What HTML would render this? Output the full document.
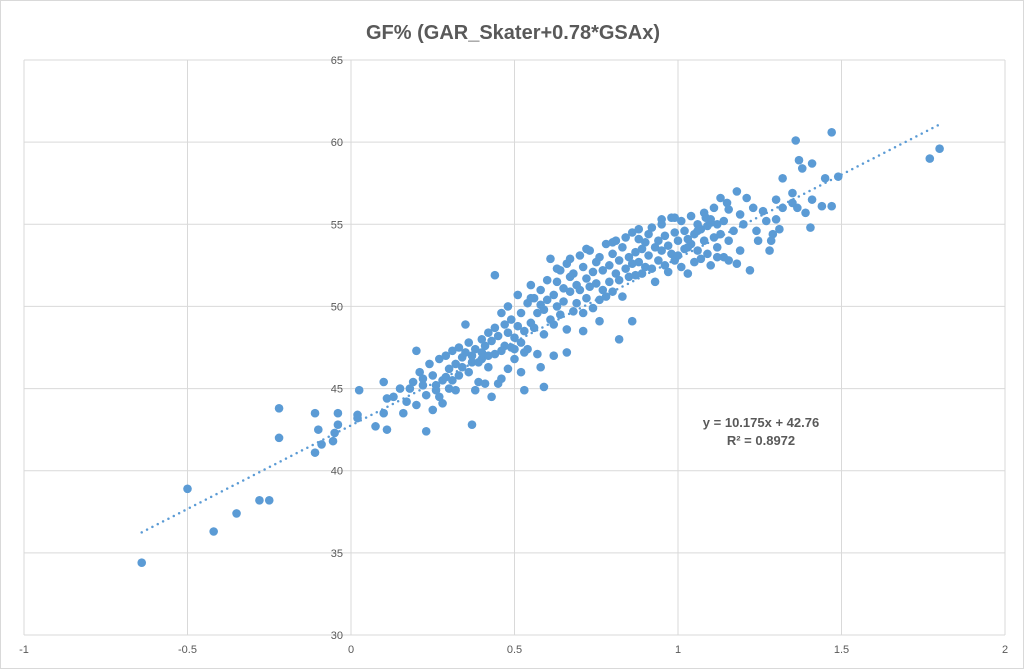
<!DOCTYPE html>
<html><head><meta charset="utf-8"><style>
body{margin:0;background:#fff;font-family:"Liberation Sans",sans-serif;}
#wrap{position:relative;width:1024px;height:669px;overflow:hidden;border:1px solid #d9d9d9;box-sizing:border-box;}
</style></head><body>
<div id="wrap">
<svg id="chart" width="1024" height="669"></svg>
</div>
<script>
const xTicks=[-1,-0.5,0,0.5,1,1.5,2];
const xTickLabels=["-1","-0.5","0","0.5","1","1.5","2"];
const yTicks=[30,35,40,45,50,55,60,65];
const yTickLabels=["30","35","40","45","50","55","60","65"];
const xValues=[
-0.64,-0.50,-0.42,-0.35,-0.28,-0.25,-0.22,-0.22,-0.11,-0.10,
-0.11,-0.09,-0.055,-0.05,-0.04,-0.04,0.02,0.02,0.025,0.075,
0.10,0.11,0.10,0.11,0.13,0.16,0.18,0.20,0.23,0.37,
0.15,0.17,0.19,0.20,0.21,0.22,0.23,0.24,0.25,0.26,
0.27,0.28,0.29,0.30,0.30,0.31,0.32,0.33,0.33,0.34,
0.35,0.36,0.36,0.37,0.38,0.39,0.40,0.40,0.41,0.42,
0.42,0.43,0.44,0.44,0.45,0.45,0.46,0.47,0.47,0.48,
0.48,0.49,0.49,0.50,0.50,0.51,0.51,0.52,0.52,0.53,
0.54,0.54,0.55,0.55,0.56,0.56,0.57,0.57,0.58,0.58,
0.59,0.59,0.60,0.60,0.61,0.61,0.62,0.62,0.63,0.63,
0.64,0.64,0.65,0.65,0.66,0.66,0.67,0.67,0.68,0.68,
0.69,0.69,0.70,0.70,0.71,0.71,0.72,0.72,0.73,0.73,
0.74,0.74,0.75,0.75,0.76,0.76,0.77,0.77,0.78,0.78,
0.79,0.79,0.80,0.80,0.81,0.81,0.82,0.82,0.83,0.83,
0.84,0.84,0.85,0.85,0.86,0.86,0.87,0.87,0.88,0.88,
0.89,0.89,0.90,0.90,0.91,0.91,0.92,0.92,0.93,0.93,
0.94,0.94,0.95,0.95,0.96,0.96,0.97,0.97,0.98,0.98,
0.99,0.99,1.00,1.00,1.01,1.01,1.02,1.02,1.03,1.03,
1.04,1.04,1.05,1.05,1.06,1.06,1.07,1.07,1.08,1.08,
1.09,1.09,1.10,1.10,1.11,1.11,1.12,1.12,1.13,1.14,
0.44,0.53,0.59,0.82,0.86,0.58,0.62,0.66,0.71,0.76,
0.28,0.25,0.22,0.27,0.32,0.38,0.41,0.43,0.46,0.52,
0.35,0.40,0.48,0.55,0.63,0.67,0.72,0.80,0.88,0.95,
0.26,0.29,0.31,0.34,0.37,0.39,0.42,0.46,0.50,0.53,
1.47,1.36,1.80,1.77,1.37,1.38,1.41,1.32,1.45,1.49,
1.18,1.35,1.13,1.21,1.15,1.30,1.41,1.44,1.47,1.35,
1.365,1.39,1.155,1.23,1.26,1.32,1.19,0.99,1.085,1.30,
1.405,1.31,1.29,1.245,1.285,1.28,1.22,1.19,1.18,1.155,
1.155,1.14,1.17,1.20,1.24,1.27,1.10,1.12,1.06,1.03];
const yValues=[
34.4,38.9,36.3,37.4,38.2,38.2,43.8,42.0,43.5,42.5,
41.1,41.6,41.8,42.3,42.8,43.5,43.2,43.4,44.9,42.7,
45.4,42.5,43.5,44.4,44.5,43.5,45.0,47.3,42.4,42.8,
45.0,44.2,45.4,44.0,46.0,45.2,44.6,46.5,45.8,44.9,
46.8,45.5,47.0,46.2,45.0,47.3,46.5,45.8,47.5,46.9,
47.2,46.0,47.8,46.6,47.4,45.4,48.0,46.8,47.6,48.4,
46.3,47.9,48.7,47.1,48.2,45.3,49.6,47.6,48.9,46.2,
48.4,47.5,49.2,48.1,46.8,50.7,48.8,47.8,49.6,48.5,
50.2,47.4,49.0,51.3,48.7,50.5,49.6,47.1,51.0,50.1,
48.3,49.8,51.6,50.4,49.2,52.9,50.7,48.9,51.5,50.0,
52.2,49.5,51.1,50.3,52.6,48.6,51.8,50.9,49.7,52.0,
51.3,50.2,53.1,51.0,49.6,52.4,51.7,50.5,53.4,51.2,
52.1,49.9,52.7,51.4,50.4,53.0,52.2,51.0,53.8,50.6,
52.5,51.5,53.2,50.9,52.0,54.0,51.6,52.8,53.6,50.6,
52.3,54.2,51.8,53.0,52.6,54.5,51.9,53.3,52.7,54.1,
53.5,52.0,53.9,52.4,54.4,53.1,52.3,54.8,53.6,51.5,
54.0,52.8,53.4,55.0,52.5,54.3,53.7,52.1,55.4,53.2,
54.5,52.8,54.0,53.1,55.2,52.4,54.6,53.5,54.1,52.0,
55.5,53.8,54.4,52.7,55.0,53.4,54.7,52.9,55.7,54.0,
53.2,54.9,55.3,52.5,54.2,56.0,53.6,55.0,54.4,53.0,
51.9,44.9,45.1,48.0,49.1,46.3,47.0,47.2,48.5,49.1,
44.1,43.7,45.6,44.5,44.9,44.9,45.3,44.5,45.6,46.0,
48.9,47.2,50.0,50.5,52.3,52.9,53.5,53.9,54.7,55.3,
45.2,45.7,45.5,46.3,47.0,46.6,47.0,47.3,47.4,47.2,
60.6,60.1,59.6,59.0,58.9,58.4,58.7,57.8,57.8,57.9,
57.0,56.9,56.6,56.6,56.3,56.5,56.5,56.1,56.1,56.3,
56.0,55.7,55.9,56.0,55.8,56.0,55.6,55.4,55.4,55.3,
54.8,54.7,54.4,54.0,54.0,53.4,52.2,53.4,52.6,52.8,
54.0,55.2,54.6,55.0,54.6,55.2,55.1,53.0,54.6,53.6];
const slope=10.175, intercept=42.76, trendX=[-0.64,1.80];
const NS="http://www.w3.org/2000/svg";
const svg=document.getElementById('chart');
const L=23,R=1004,T=59,B=634;
const xS=v=>L+(v+1)/3*(R-L);
const yS=v=>B-(v-30)/35*(B-T);
function mk(tag,attrs,parent){const e=document.createElementNS(NS,tag);for(const k in attrs)e.setAttribute(k,attrs[k]);(parent||svg).appendChild(e);return e;}
const title=mk('text',{x:512,y:38,'text-anchor':'middle','font-size':'20','font-weight':'bold',fill:'#595959','font-family':'Liberation Sans, sans-serif'});
title.textContent='GF% (GAR_Skater+0.78*GSAx)';


xTicks.forEach((t,i)=>{
  const g=mk('line',{x1:xS(t),x2:xS(t),y1:T,y2:B,stroke:'#d9d9d9','stroke-width':1});
  
  
  const lb=mk('text',{x:xS(t),y:652,'text-anchor':'middle','font-size':'11',fill:'#595959'});
  lb.textContent=xTickLabels[i];
  
  
});
yTicks.forEach((t,i)=>{
  const g=mk('line',{x1:L,x2:R,y1:yS(t),y2:yS(t),stroke:'#d9d9d9','stroke-width':1});
  
  
  const lb=mk('text',{x:xS(0)-8,y:yS(t)+4,'text-anchor':'end','font-size':'11',fill:'#595959'});
  lb.textContent=yTickLabels[i];
  
  
});
const n=Math.min(xValues.length,yValues.length);
for(let i=0;i<n;i++){
  const c=mk('circle',{cx:xS(xValues[i]),cy:yS(yValues[i]),r:4.3,fill:'#5b9bd5'});
  
  
}
const tl=mk('line',{x1:xS(trendX[0]),y1:yS(slope*trendX[0]+intercept),x2:xS(trendX[1]),y2:yS(slope*trendX[1]+intercept),stroke:'#5b9bd5','stroke-width':2.5,'stroke-dasharray':'0 6','stroke-linecap':'round'});


const eq=mk('text',{x:760,y:426,'text-anchor':'middle','font-size':'13','font-weight':'bold',fill:'#595959'});
eq.textContent='y = 10.175x + 42.76';


const r2=mk('text',{x:760,y:444,'text-anchor':'middle','font-size':'13','font-weight':'bold',fill:'#595959'});
r2.textContent='R² = 0.8972';


</script>
</body></html>
